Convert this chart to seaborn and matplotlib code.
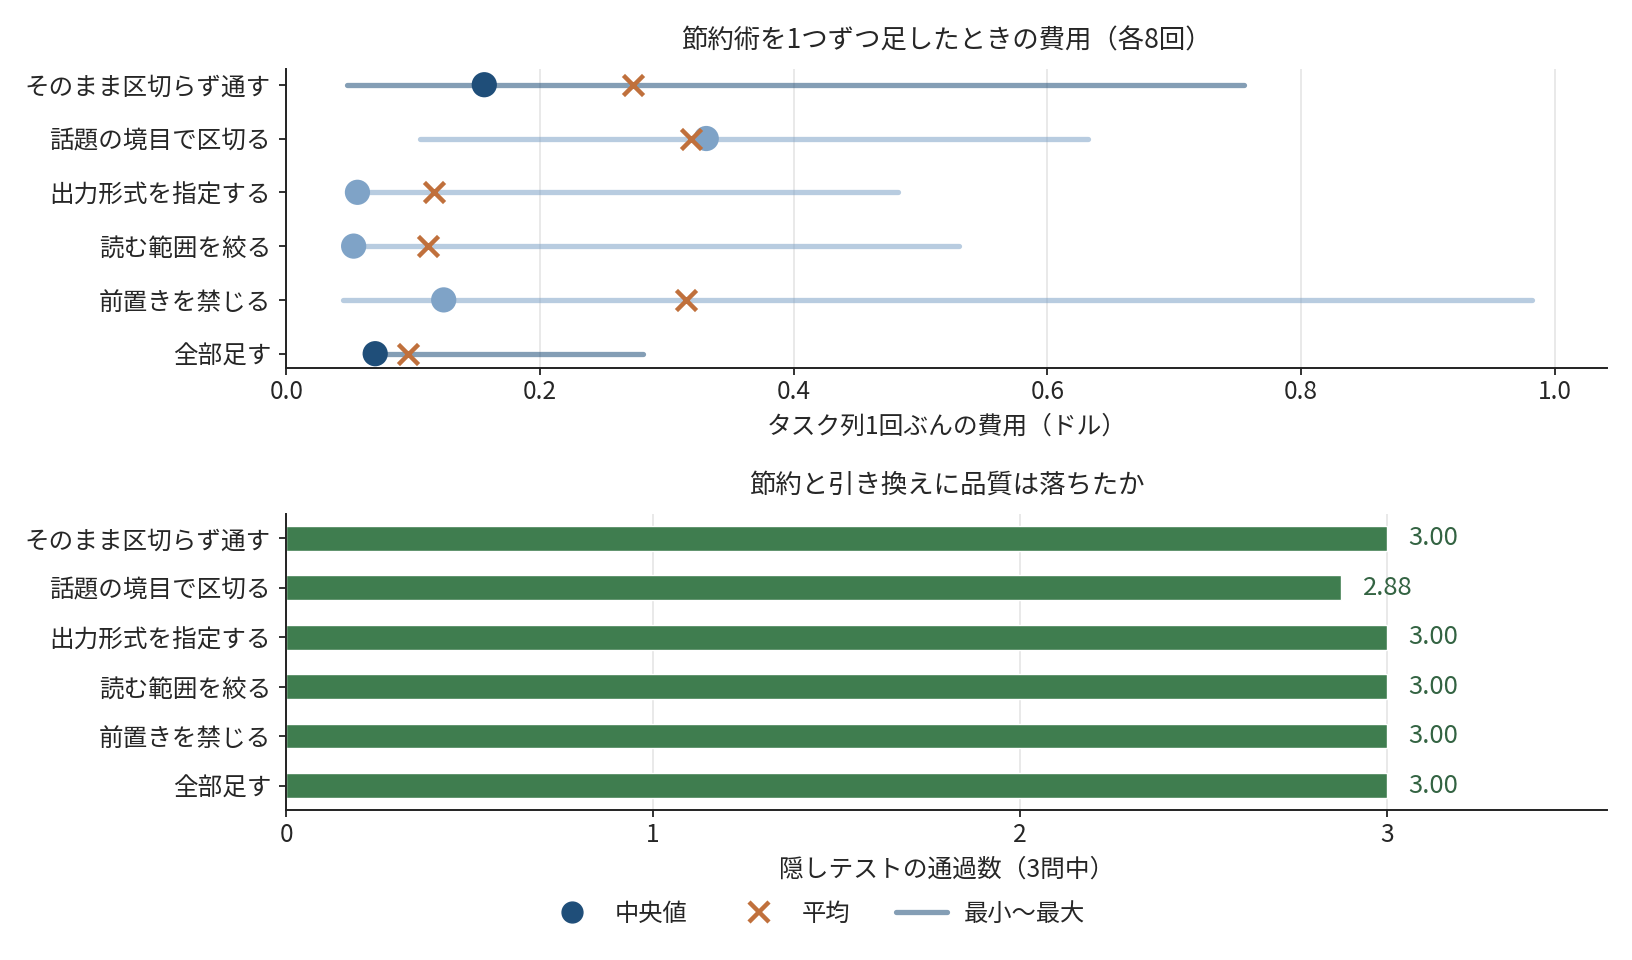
import pandas as pd
import matplotlib
matplotlib.use('Agg')
import matplotlib.pyplot as plt
import seaborn as sns
from matplotlib.lines import Line2D

# data
tecnicas = ['そのまま区切らず通す', '話題の境目で区切る', '出力形式を指定する',
            '読む範囲を絞る', '前置きを禁じる', '全部足す']
custo_min = [0.048, 0.105, 0.050, 0.048, 0.045, 0.062]
custo_mediana = [0.156, 0.331, 0.056, 0.053, 0.124, 0.070]
custo_media = [0.273, 0.319, 0.116, 0.112, 0.315, 0.096]
custo_max = [0.755, 0.632, 0.482, 0.530, 0.982, 0.281]
destaque = [True, False, False, False, False, True]
testes_ok = [3.00, 2.875, 3.00, 3.00, 3.00, 3.00]

escuro = '#1f4e79'
claro = '#7fa3c7'
laranja = '#c0703c'
verde = '#3f7d4f'

sns.set_theme(style='white')
plt.rcParams['font.family'] = ['Noto Sans CJK JP', 'DejaVu Sans']

df = pd.DataFrame({
    'tecnica': tecnicas,
    'min': custo_min,
    'mediana': custo_mediana,
    'media': custo_media,
    'max': custo_max,
    'grupo': ['d' if d else 'n' for d in destaque],
    'testes': testes_ok,
})
df['pos'] = range(len(df))

fig = plt.figure(figsize=(16.32, 9.6), dpi=100)
ax1 = fig.add_axes([0.1755, 0.617, 0.809, 0.311])
ax2 = fig.add_axes([0.1755, 0.156, 0.809, 0.309])

# faixa min-max
for _, r in df.iterrows():
    cor = escuro if r['grupo'] == 'd' else claro
    ax1.plot([r['min'], r['max']], [r['pos'], r['pos']], color=cor, alpha=0.55,
             lw=3.8, solid_capstyle='round', zorder=2)

sns.scatterplot(data=df, x='mediana', y='pos', hue='grupo',
                palette={'d': escuro, 'n': claro}, s=330, linewidth=0,
                legend=False, ax=ax1, zorder=3)
sns.scatterplot(data=df, x='media', y='pos', color=laranja, marker='x',
                s=210, linewidth=3.2, legend=False, ax=ax1, zorder=4)

ax1.set_yticks(df['pos'])
ax1.set_yticklabels(tecnicas)
ax1.set_ylim(5.26, -0.29)
ax1.set_xlim(0, max(custo_max) * 1.06)
ax1.set_title('節約術を1つずつ足したときの費用（各8回）', fontsize=19, pad=15)
ax1.set_xlabel('タスク列1回ぶんの費用（ドル）', fontsize=17.8, labelpad=6)
ax1.set_ylabel('')

sns.barplot(data=df, x='testes', y='tecnica', color=verde, saturation=1,
            width=0.5, ax=ax2, zorder=2)
for _, r in df.iterrows():
    ax2.text(r['testes'] + 0.06, r['pos'], f"{r['testes']:.2f}", va='center',
             ha='left', fontsize=18.5, color='#336342')
ax2.set_xlim(0, 3.6)
ax2.set_xticks([0, 1, 2, 3])
ax2.set_title('節約と引き換えに品質は落ちたか', fontsize=19, pad=15)
ax2.set_xlabel('隠しテストの通過数（3問中）', fontsize=17.8, labelpad=6)
ax2.set_ylabel('')

for ax in (ax1, ax2):
    sns.despine(ax=ax)
    ax.grid(axis='x', color='#e3e3e3', lw=1.1, zorder=0)
    ax.set_axisbelow(True)
    ax.tick_params(axis='both', labelsize=17.7, length=5, width=1.3,
                   color='#222222', left=True, bottom=True)
    ax.tick_params(axis='y', pad=6)
    for s in ('left', 'bottom'):
        ax.spines[s].set_color('#222222')
        ax.spines[s].set_linewidth(1.4)

alcas = [
    Line2D([], [], marker='o', ls='none', color=escuro, markersize=15),
    Line2D([], [], marker='x', ls='none', color=laranja, markersize=14, mew=3.2),
    Line2D([], [], color=escuro, alpha=0.55, lw=3.8),
]
fig.legend(alcas, ['中央値', '平均', '最小〜最大'], loc='center',
           bbox_to_anchor=(0.5, 0.048), ncol=3, frameon=False, fontsize=17.5,
           handlelength=2.1, columnspacing=1.9, handletextpad=0.7)

fig.savefig('out.png', dpi=100)
